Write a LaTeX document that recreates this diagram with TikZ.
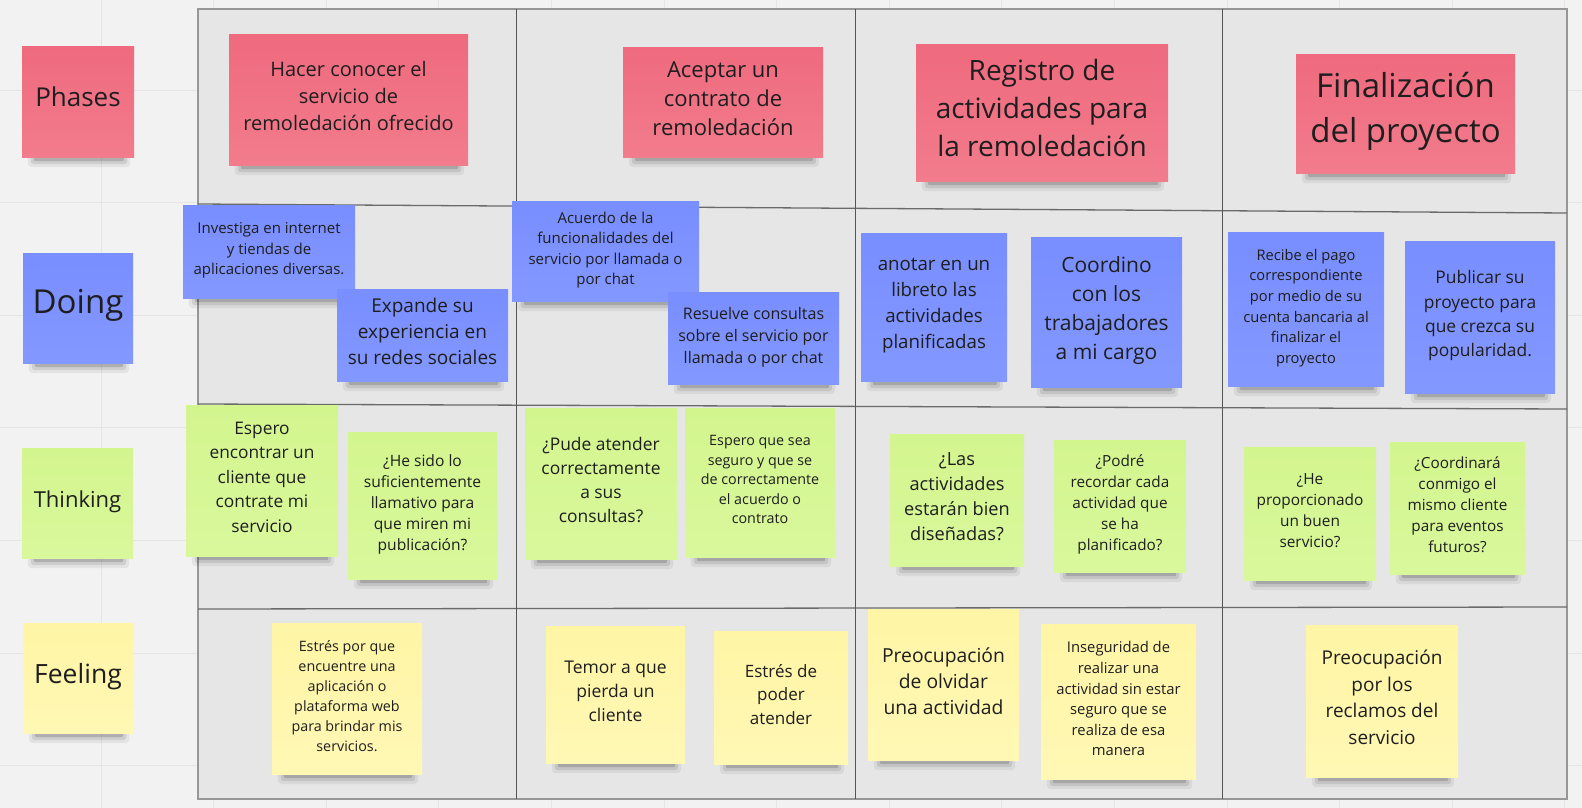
\documentclass[tikz,border=0pt]{standalone}
\usepackage{fontspec}
\setmainfont{Open Sans}
\definecolor{paper}{HTML}{F2F2F2}
\definecolor{gridln}{HTML}{E5E5E5}
\definecolor{boardfill}{HTML}{E6E6E6}
\definecolor{boardln}{HTML}{6A6A6A}
\definecolor{ink}{HTML}{1E1E1E}
\definecolor{redtop}{HTML}{EF6A7E}
\definecolor{redbot}{HTML}{F27C8C}
\definecolor{bluetop}{HTML}{798EFF}
\definecolor{bluebot}{HTML}{8398FF}
\definecolor{greentop}{HTML}{D3F58E}
\definecolor{greenbot}{HTML}{D9F89C}
\definecolor{yellowtop}{HTML}{FFF5A5}
\definecolor{yellowbot}{HTML}{FFF8B5}
\newcommand{\fs}[2]{\fontsize{#1}{#2}\selectfont}
\pgfdeclarelayer{back}
\pgfdeclarelayer{shade}
\pgfsetlayers{back,shade,main}
\tikzset{
  sticky/.style={rectangle, inner sep=0pt, align=center, text=ink,
    execute at end node={\rule[-0.38em]{0pt}{0.38em}}},
  phase note/.style={sticky, top color=redtop, bottom color=redbot},
  doing note/.style={sticky, top color=bluetop, bottom color=bluebot},
  think note/.style={sticky, top color=greentop, bottom color=greenbot},
  feel note/.style={sticky, top color=yellowtop, bottom color=yellowbot},
  gridline/.style={draw=gridln, line width=1pt},
  laneline/.style={draw=boardln, line width=1.3pt},
  colline/.style={draw=boardln!80!black, line width=1pt},
}
\begin{document}
\begin{tikzpicture}[x=1pt,y=-1pt]
\pgfmathsetmacro{\fl}{198}
\pgfmathsetmacro{\fr}{1567}
\pgfmathsetmacro{\ft}{9}
\pgfmathsetmacro{\fb}{799}
\useasboundingbox (0,0) rectangle (1582,808);
\begin{pgfonlayer}{back}
\fill[paper] (0,0) rectangle (1582,808);
\foreach \gx in {101,213.6,...,1582} \draw[gridline] (\gx,0) -- (\gx,808);
\foreach \gy in {90,202.6,...,808} \draw[gridline] (0,\gy) -- (1582,\gy);
\filldraw[fill=boardfill, draw=boardln!70, line width=1.3pt] (\fl,\ft) rectangle (\fr,\fb);
%
\draw[laneline] (\fl,204) -- (\fr,213);
\draw[laneline] (\fl,404) -- (\fr,409);
\draw[laneline] (\fl,609) -- (\fr,607);
%
\draw[colline] (516,\ft) -- (516,\fb);
\draw[colline] (855,\ft) -- (855,\fb);
\draw[colline] (1222,\ft) -- (1222,\fb);
\end{pgfonlayer}
%
% lane labels
\node[phase note, minimum width=112pt, minimum height=110pt, font=\fs{26}{32}] (phases) at (78,102) {Phases};
\node[doing note, minimum width=110pt, minimum height=110pt, font=\fs{33}{40}] (doing) at (78,308) {Doing};
\node[think note, minimum width=111pt, minimum height=110pt, font=\fs{22}{28}] (thinking) at (77.5,503) {Thinking};
\node[feel note, minimum width=110pt, minimum height=110pt, font=\fs{26.5}{32}] (feeling) at (78,678) {Feeling};
%
% phases
\node[phase note, minimum width=239pt, minimum height=130pt, font=\fs{20}{27}] (p1) at (348.5,100) {Hacer conocer el\\servicio de\\remoledación ofrecido};
\node[phase note, minimum width=200pt, minimum height=109pt, font=\fs{22}{29}] (p2) at (723,102.5) {Aceptar un\\contrato de\\remoledación};
\node[phase note, minimum width=252pt, minimum height=136pt, font=\fs{28}{38}] (p3) at (1042,113) {Registro de\\actividades para\\la remoledación};
\node[phase note, minimum width=219pt, minimum height=118pt, font=\fs{33}{45}] (p4) at (1405.5,114) {Finalización\\del proyecto};
%
% doing
\node[doing note, minimum width=172pt, minimum height=93pt, font=\fs{15}{20.5}] (d1) at (269,251.5) {Investiga en internet\\y tiendas de\\aplicaciones diversas.};
\node[doing note, minimum width=171pt, minimum height=92pt, font=\fs{19}{26}] (d2) at (422.5,335) {Expande su\\experiencia en\\su redes sociales};
\node[doing note, minimum width=187pt, minimum height=100pt, font=\fs{15}{20.5}] (d3) at (605.5,251) {Acuerdo de la\\funcionalidades del\\servicio por llamada o\\por chat};
\node[doing note, minimum width=171pt, minimum height=92pt, font=\fs{16}{22}] (d4) at (753.5,338) {Resuelve consultas\\sobre el servicio por\\llamada o por chat};
\node[doing note, minimum width=146pt, minimum height=148pt, font=\fs{18.7}{26}] (d5) at (934,307) {anotar en un\\libreto las\\actividades\\planificadas};
\node[doing note, minimum width=151pt, minimum height=150pt, font=\fs{21}{29}] (d6) at (1106.5,312) {Coordino\\con los\\trabajadores\\a mi cargo};
\node[doing note, minimum width=156pt, minimum height=154pt, font=\fs{14.7}{20.6}] (d7) at (1306,309) {Recibe el pago\\correspondiente\\por medio de su\\cuenta bancaria al\\finalizar el\\proyecto};
\node[doing note, minimum width=150pt, minimum height=152pt, font=\fs{17.4}{24.3}] (d8) at (1480,317) {Publicar su\\proyecto para\\que crezca su\\popularidad.};
%
% thinking
\node[think note, minimum width=152pt, minimum height=151pt, font=\fs{17.3}{24.5}] (t1) at (262,480.5) {Espero\\encontrar un\\cliente que\\contrate mi\\servicio};
\node[think note, minimum width=149pt, minimum height=147pt, font=\fs{15.6}{21}] (t2) at (422.5,505.5) {¿He sido lo\\suficientemente\\llamativo para\\que miren mi\\publicación?};
\node[think note, minimum width=152pt, minimum height=151pt, font=\fs{17.4}{24}] (t3) at (601,483.5) {¿Pude atender\\correctamente\\a sus\\consultas?};
\node[think note, minimum width=150pt, minimum height=149pt, font=\fs{14.3}{19.5}] (t4) at (760,482.5) {Espero que sea\\seguro y que se\\de correctamente\\el acuerdo o\\contrato};
\node[think note, minimum width=134pt, minimum height=132pt, font=\fs{18.2}{25}] (t5) at (957,500) {¿Las\\actividades\\estarán bien\\diseñadas?};
\node[think note, minimum width=132pt, minimum height=132pt, font=\fs{15.3}{21}] (t6) at (1120,506) {¿Podré\\recordar cada\\actividad que\\se ha\\planificado?};
\node[think note, minimum width=132pt, minimum height=133pt, font=\fs{15.4}{21}] (t7) at (1310,513.5) {¿He\\proporcionado\\un buen\\servicio?};
\node[think note, minimum width=135pt, minimum height=132pt, font=\fs{15.3}{21}] (t8) at (1457.5,508) {¿Coordinará\\conmigo el\\mismo cliente\\para eventos\\futuros?};
%
% feeling
\node[feel note, minimum width=150pt, minimum height=151pt, font=\fs{14.3}{20}] (f1) at (347,698.5) {Estrés por que\\encuentre una\\aplicación o\\plataforma web\\para brindar mis\\servicios.};
\node[feel note, minimum width=139pt, minimum height=137pt, font=\fs{17.5}{24}] (f2) at (615.5,694.5) {Temor a que\\pierda un\\cliente};
\node[feel note, minimum width=134pt, minimum height=133pt, font=\fs{17}{23.5}] (f3) at (781,697.5) {Estrés de\\poder\\atender};
\node[feel note, minimum width=151pt, minimum height=151pt, font=\fs{19.3}{26}] (f4) at (943.5,684.5) {Preocupación\\de olvidar\\una actividad};
\node[feel note, minimum width=155pt, minimum height=155pt, font=\fs{14.8}{20.6}] (f5) at (1118.5,701.5) {Inseguridad de\\realizar una\\actividad sin estar\\seguro que se\\realiza de esa\\manera};
\node[feel note, minimum width=152pt, minimum height=152pt, font=\fs{19}{26.5}] (f6) at (1382,701) {Preocupación\\por los\\reclamos del\\servicio};
%
% shadows under the notes
\begin{pgfonlayer}{shade}
\foreach \n in {phases,doing,thinking,feeling,p1,p2,p3,p4,d1,d2,d3,d4,d5,d6,d7,d8,t1,t2,t3,t4,t5,t6,t7,t8,f1,f2,f3,f4,f5,f6}{
  \fill[black,opacity=.06,rounded corners=4pt] ([xshift=6pt,yshift=4pt]\n.south west) rectangle ([xshift=-4pt,yshift=-10pt]\n.south east);
  \fill[black,opacity=.09,rounded corners=3pt] ([xshift=9pt,yshift=4pt]\n.south west) rectangle ([xshift=-7pt,yshift=-7pt]\n.south east);
  \fill[black,opacity=.15,rounded corners=2pt] ([xshift=12pt,yshift=4pt]\n.south west) rectangle ([xshift=-10pt,yshift=-4pt]\n.south east);
}
\end{pgfonlayer}
\end{tikzpicture}
\end{document}
